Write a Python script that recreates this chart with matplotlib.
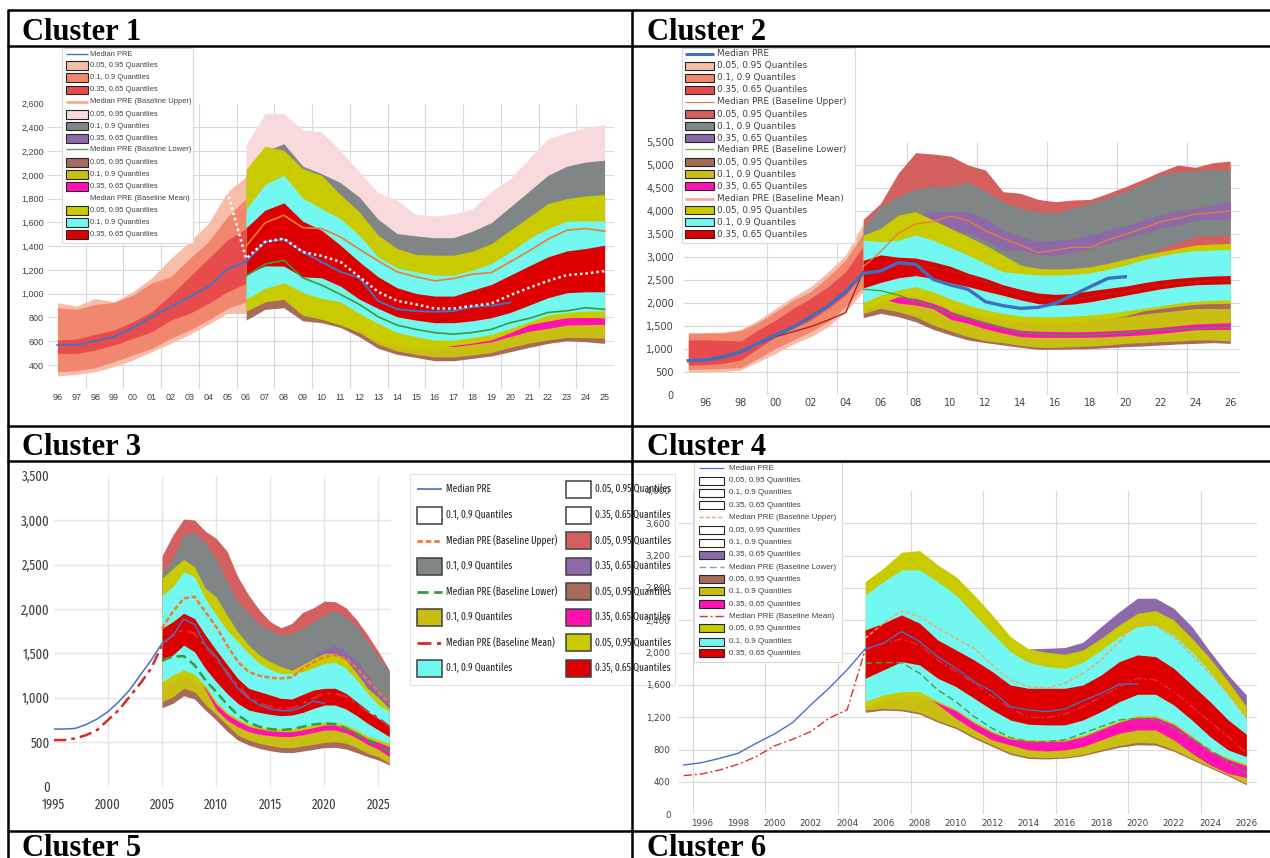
import matplotlib
matplotlib.use('Agg')
import matplotlib.pyplot as plt
from matplotlib.patches import Rectangle
from matplotlib import font_manager as fm
from matplotlib.font_manager import FontProperties
from matplotlib.textpath import TextPath

W, H = 1270, 858
fig = plt.figure(figsize=(W / 100, H / 100), dpi=100)
fig.patch.set_facecolor('white')

# ---------------------------------------------------------------- labels
LEG16 = ['Median PRE', '0.05, 0.95 Quantiles', '0.1, 0.9 Quantiles', '0.35, 0.65 Quantiles',
         'Median PRE (Baseline Upper)', '0.05, 0.95 Quantiles', '0.1, 0.9 Quantiles', '0.35, 0.65 Quantiles',
         'Median PRE (Baseline Lower)', '0.05, 0.95 Quantiles', '0.1, 0.9 Quantiles', '0.35, 0.65 Quantiles',
         'Median PRE (Baseline Mean)', '0.05, 0.95 Quantiles', '0.1, 0.9 Quantiles', '0.35, 0.65 Quantiles']
C3_COL1 = ['Median PRE', '0.1, 0.9 Quantiles', 'Median PRE (Baseline Upper)', '0.1, 0.9 Quantiles',
           'Median PRE (Baseline Lower)', '0.1, 0.9 Quantiles', 'Median PRE (Baseline Mean)', '0.1, 0.9 Quantiles']
C3_COL2 = ['0.05, 0.95 Quantiles', '0.35, 0.65 Quantiles', '0.05, 0.95 Quantiles', '0.35, 0.65 Quantiles',
           '0.05, 0.95 Quantiles', '0.35, 0.65 Quantiles', '0.05, 0.95 Quantiles', '0.35, 0.65 Quantiles']

# ---------------------------------------------------------------- colours
HIST_COLS = ['#F7BDA8', '#F0876E', '#E84B4B']
UP_COLS_1 = ['#F8D9DC', '#808685', '#8E69A9']
UP_COLS_2 = ['#D45F5F', '#808685', '#8E69A9']
LO_COLS = ['#A86A5A', '#C9BE12', '#FF12B0']
MN_COLS = ['#CACA00', '#72F8F0', '#DE0000']
BLUE = '#4472C4'
ORANGE = '#ED7D31'
GREEN = '#3C9A3C'

# ================================================================ Cluster 1
c1_hist_years = list(range(1996, 2007))
c1_hist_q95 = [924, 896, 960, 932, 1016, 1134, 1296, 1436, 1590, 1856, 1982]
c1_hist_q90 = [882, 870, 910, 926, 988, 1092, 1142, 1296, 1436, 1646, 1800]
c1_hist_q65 = [610, 618, 658, 694, 764, 848, 988, 1142, 1296, 1450, 1548]
c1_hist_q35 = [498, 498, 526, 568, 624, 680, 778, 834, 918, 1016, 1086]
c1_hist_q10 = [344, 352, 378, 428, 484, 540, 624, 694, 778, 876, 932]
c1_hist_q05 = [308, 322, 344, 386, 442, 512, 582, 658, 742, 834, 834]
c1_blue_years = list(range(1996, 2021))
c1_blue = [568, 568, 602, 638, 714, 806, 890, 974, 1058, 1206, 1268, 1436, 1458, 1352, 1268,
           1184, 1134, 938, 870, 854, 848, 854, 890, 898, 926]
c1_fc_years = list(range(2006, 2026))
c1_up_q95 = [2254, 2514, 2514, 2380, 2360, 2206, 2024, 1850, 1786, 1666, 1654, 1671, 1716, 1862, 1968, 2136, 2304, 2354, 2396, 2424]
c1_up_q90 = [2000, 2200, 2262, 2074, 2010, 1934, 1814, 1626, 1506, 1486, 1470, 1472, 1526, 1598, 1730, 1862, 1996, 2072, 2108, 2122]
c1_up_q65 = [1500, 1700, 1760, 1650, 1640, 1570, 1470, 1370, 1280, 1240, 1200, 1220, 1260, 1280, 1370, 1460, 1560, 1630, 1650, 1620]
c1_up_q35 = [1300, 1500, 1560, 1460, 1450, 1380, 1280, 1180, 1090, 1040, 1010, 1030, 1070, 1080, 1170, 1260, 1360, 1430, 1450, 1430]
c1_up_q10 = [1250, 1400, 1450, 1350, 1300, 1250, 1150, 1050, 1000, 950, 920, 930, 960, 990, 1050, 1150, 1250, 1300, 1320, 1320]
c1_up_q05 = [1200, 1350, 1400, 1300, 1250, 1200, 1100, 1000, 950, 900, 870, 880, 910, 940, 1000, 1100, 1200, 1250, 1270, 1270]
c1_up_med = [1400, 1596, 1660, 1556, 1548, 1478, 1374, 1276, 1184, 1142, 1108, 1128, 1164, 1178, 1268, 1360, 1458, 1534, 1548, 1526]
c1_mn_q95 = [2046, 2242, 2206, 2052, 1996, 1834, 1688, 1492, 1380, 1330, 1324, 1324, 1358, 1422, 1534, 1646, 1758, 1800, 1822, 1834]
c1_mn_q90 = [1710, 1920, 1996, 1806, 1716, 1632, 1492, 1310, 1218, 1184, 1156, 1156, 1198, 1254, 1352, 1464, 1548, 1610, 1612, 1612]
c1_mn_q65 = [1554, 1702, 1764, 1610, 1534, 1408, 1268, 1142, 1050, 1002, 980, 980, 1030, 1078, 1156, 1234, 1310, 1360, 1380, 1408]
c1_mn_q35 = [1162, 1234, 1232, 1142, 1134, 1064, 954, 876, 806, 778, 756, 756, 772, 798, 842, 904, 966, 1008, 1016, 1016]
c1_mn_q10 = [954, 1044, 1092, 1010, 960, 932, 834, 750, 674, 638, 610, 610, 632, 658, 708, 764, 820, 842, 854, 854]
c1_mn_q05 = [854, 932, 954, 820, 786, 740, 680, 600, 560, 540, 535, 565, 585, 612, 672, 740, 770, 798, 800, 798]
c1_lo_q95 = [1500, 1600, 1650, 1500, 1450, 1350, 1250, 1150, 1080, 1050, 1030, 1020, 1030, 1050, 1100, 1150, 1200, 1220, 1240, 1230]
c1_lo_q90 = [1400, 1500, 1550, 1400, 1350, 1250, 1150, 1050, 980, 950, 930, 920, 930, 950, 1000, 1050, 1100, 1120, 1140, 1130]
c1_lo_q65 = [1250, 1350, 1380, 1250, 1200, 1100, 1000, 900, 830, 800, 780, 770, 780, 800, 850, 900, 940, 960, 980, 970]
c1_lo_q35 = [1000, 1100, 1120, 1000, 950, 880, 800, 700, 620, 580, 560, 555, 575, 595, 640, 684, 708, 736, 740, 742]
c1_lo_q10 = [854, 932, 954, 820, 786, 736, 674, 574, 518, 490, 468, 468, 484, 506, 548, 585, 610, 632, 630, 624]
c1_lo_q05 = [778, 868, 882, 772, 756, 716, 638, 540, 490, 464, 436, 436, 456, 476, 512, 548, 582, 604, 596, 582]
c1_lo_med = [1150, 1248, 1282, 1134, 1072, 994, 910, 806, 736, 700, 672, 660, 674, 700, 756, 792, 842, 856, 882, 868]
c1_mn_med_years = list(range(2005, 2026))
c1_mn_med = [1860, 1296, 1436, 1464, 1352, 1318, 1268, 1142, 1016, 940, 910, 876, 876, 898, 918, 988, 1050, 1108, 1156, 1170, 1190]
c1_xticks = list(range(1996, 2026))
c1_xlabels = ['96', '97', '98', '99', '00', '01', '02', '03', '04', '05', '06', '07', '08', '09', '10',
              '11', '12', '13', '14', '15', '16', '17', '18', '19', '20', '21', '22', '23', '24', '25']
c1_yticks = [400, 600, 800, 1000, 1200, 1400, 1600, 1800, 2000, 2200, 2400, 2600]

# ================================================================ Cluster 2
c2_hist_years = list(range(1995, 2006))
c2_hist_q95 = [1356, 1364, 1370, 1429, 1632, 1886, 2140, 2358, 2684, 3047, 3736]
c2_hist_q90 = [1342, 1345, 1350, 1400, 1574, 1814, 2067, 2249, 2575, 2938, 3518]
c2_hist_q65 = [1197, 1200, 1190, 1175, 1415, 1632, 1886, 2104, 2358, 2684, 3228]
c2_hist_q35 = [653, 660, 690, 762, 1016, 1269, 1451, 1632, 1886, 2176, 2648]
c2_hist_q10 = [559, 565, 580, 595, 798, 1016, 1197, 1378, 1596, 1922, 2358]
c2_hist_q05 = [493, 500, 510, 544, 725, 907, 1110, 1269, 1487, 1814, 2249]
c2_blue_years = list(range(1995, 2021))
c2_blue = [747, 762, 834, 943, 1124, 1306, 1473, 1705, 1944, 2249, 2648, 2698, 2880, 2844, 2517, 2394,
           2300, 2031, 1944, 1886, 1908, 1995, 2176, 2358, 2539, 2575]
c2_mn_med_years = list(range(1995, 2027))
c2_mn_med = [750, 760, 830, 930, 1110, 1269, 1378, 1487, 1632, 1792, 2684, 2720, 2844, 2829, 2757, 2706,
             2575, 2467, 2300, 2176, 2089, 2067, 2082, 2140, 2198, 2249, 2321, 2379, 2430, 2467, 2481, 2488]
c2_fc_years = list(range(2005, 2027))
c2_up_q95 = [3823, 4171, 4824, 5274, 5245, 5200, 5005, 4897, 4425, 4389, 4258, 4207, 4244, 4258, 4389, 4534, 4693, 4860, 5005, 4955, 5056, 5092]
c2_up_q90 = [3649, 4100, 4331, 4476, 4534, 4548, 4643, 4425, 4207, 4062, 3990, 3968, 4062, 4171, 4302, 4425, 4606, 4788, 4860, 4882, 4911, 4896]
c2_up_q65 = [2900, 3250, 3650, 3900, 3990, 3990, 3990, 3845, 3591, 3446, 3337, 3373, 3388, 3482, 3591, 3678, 3808, 3917, 4011, 4062, 4135, 4229]
c2_up_q35 = [2700, 3000, 3350, 3550, 3600, 3627, 3518, 3373, 3155, 3155, 3047, 3047, 3097, 3192, 3301, 3409, 3518, 3627, 3700, 3808, 3823, 3830]
c2_up_q10 = [3382, 3527, 3817, 3890, 3708, 3527, 3346, 3164, 2947, 2729, 2657, 2642, 2657, 2693, 2765, 2860, 2947, 3190, 3320, 3446, 3470, 3482]
c2_up_q05 = [3182, 3327, 3617, 3690, 3508, 3327, 3146, 2964, 2747, 2529, 2457, 2442, 2457, 2493, 2565, 2660, 2747, 2819, 2892, 2964, 2986, 3001]
c2_up_med = [2793, 3119, 3518, 3721, 3772, 3895, 3794, 3576, 3409, 3264, 3097, 3155, 3214, 3214, 3373, 3496, 3627, 3772, 3845, 3939, 3968, 4004]
c2_mn_q95 = [3482, 3627, 3917, 3990, 3808, 3627, 3446, 3264, 3047, 2829, 2757, 2742, 2757, 2793, 2865, 2960, 3047, 3119, 3192, 3264, 3286, 3301]
c2_mn_q90 = [3373, 3337, 3373, 3482, 3373, 3210, 3047, 2865, 2684, 2648, 2611, 2611, 2626, 2662, 2735, 2829, 2938, 3025, 3097, 3141, 3156, 3170]
c2_mn_q65 = [2930, 3050, 3000, 2980, 2900, 2800, 2650, 2540, 2400, 2300, 2220, 2190, 2210, 2270, 2320, 2370, 2440, 2500, 2540, 2570, 2590, 2600]
c2_mn_q35 = [2330, 2450, 2550, 2600, 2540, 2440, 2360, 2260, 2170, 2070, 1990, 1960, 1980, 2030, 2100, 2170, 2240, 2310, 2360, 2400, 2410, 2420]
c2_mn_q10 = [2010, 2176, 2285, 2358, 2249, 2090, 1959, 1850, 1777, 1719, 1705, 1705, 1719, 1741, 1777, 1828, 1886, 1940, 2000, 2040, 2060, 2075]
c2_mn_q05 = [1850, 1995, 2140, 2104, 1995, 1850, 1814, 1705, 1632, 1596, 1574, 1574, 1596, 1632, 1668, 1719, 1830, 1880, 1930, 1975, 1990, 1995]
c2_lo_q95 = [2100, 2250, 2400, 2350, 2250, 2100, 2000, 1900, 1830, 1800, 1770, 1770, 1790, 1820, 1840, 1850, 1910, 1950, 1990, 2030, 2035, 2030]
c2_lo_q90 = [1950, 2100, 2250, 2200, 2100, 1950, 1850, 1750, 1680, 1650, 1620, 1620, 1640, 1670, 1690, 1700, 1760, 1800, 1840, 1880, 1885, 1880]
c2_lo_q65 = [2250, 2300, 2250, 2200, 2080, 1820, 1700, 1590, 1490, 1410, 1390, 1380, 1375, 1380, 1395, 1415, 1440, 1470, 1510, 1545, 1560, 1575]
c2_lo_q35 = [2000, 2100, 2000, 1960, 1880, 1650, 1560, 1440, 1350, 1270, 1255, 1255, 1255, 1258, 1270, 1290, 1310, 1340, 1380, 1420, 1425, 1430]
c2_lo_q10 = [1777, 1886, 1814, 1705, 1523, 1393, 1269, 1182, 1139, 1081, 1037, 1037, 1052, 1066, 1088, 1124, 1139, 1161, 1175, 1197, 1197, 1175]
c2_lo_q05 = [1683, 1777, 1705, 1596, 1429, 1306, 1197, 1139, 1088, 1037, 994, 994, 1001, 1008, 1030, 1052, 1066, 1088, 1110, 1124, 1139, 1124]
c2_lo_med = [2300, 2271, 2176, 2046, 1922, 1760, 1680, 1560, 1460, 1364, 1330, 1306, 1300, 1306, 1330, 1357, 1390, 1415, 1430, 1451, 1460, 1473]
c2_xticks = list(range(1996, 2027, 2))
c2_xlabels = ['96', '98', '00', '02', '04', '06', '08', '10', '12', '14', '16', '18', '20', '22', '24', '26']
c2_yticks = [0, 500, 1000, 1500, 2000, 2500, 3000, 3500, 4000, 4500, 5000, 5500]

# ================================================================ Cluster 3
c3_blue_years = list(range(1995, 2021))
c3_blue = [649, 649, 656, 701, 761, 844, 956, 1088, 1257, 1425, 1613, 1699, 1887, 1827, 1594, 1463,
           1275, 1107, 994, 919, 874, 855, 855, 900, 964, 938]
c3_mn_med_years = list(range(1995, 2027))
c3_mn_med = [525, 525, 544, 581, 638, 750, 863, 1013, 1163, 1332, 1594, 1707, 1763, 1725, 1575, 1444,
             1294, 1144, 1013, 938, 900, 881, 881, 938, 994, 1050, 1050, 1013, 938, 844, 769, 675]
c3_fc_years = list(range(2005, 2027))
c3_up_q95 = [2599, 2832, 3012, 3001, 2877, 2794, 2652, 2363, 2157, 1988, 1857, 1789, 1838, 1962, 2014, 2089, 2082, 2014, 1876, 1707, 1519, 1313]
c3_up_q90 = [2400, 2569, 2840, 2862, 2738, 2569, 2307, 2082, 1951, 1819, 1763, 1707, 1725, 1782, 1857, 1939, 1977, 1913, 1800, 1632, 1463, 1294]
c3_up_q65 = [2294, 2407, 2508, 2426, 2182, 2088, 1882, 1694, 1544, 1432, 1357, 1300, 1332, 1388, 1463, 1549, 1587, 1519, 1407, 1257, 1088, 956]
c3_up_q35 = [1900, 2050, 2200, 2150, 1950, 1800, 1600, 1400, 1300, 1250, 1230, 1220, 1220, 1300, 1350, 1400, 1420, 1350, 1200, 1050, 880, 750]
c3_up_q10 = [2244, 2357, 2458, 2376, 2132, 2038, 1832, 1644, 1494, 1382, 1307, 1250, 1213, 1277, 1344, 1400, 1400, 1325, 1175, 1007, 856, 763]
c3_up_q05 = [2144, 2257, 2358, 2276, 2032, 1938, 1732, 1544, 1394, 1282, 1207, 1150, 1113, 1177, 1244, 1300, 1300, 1225, 1075, 907, 756, 663]
c3_up_med = [1782, 1969, 2119, 2138, 1969, 1800, 1594, 1407, 1294, 1249, 1227, 1219, 1230, 1332, 1399, 1463, 1482, 1444, 1332, 1200, 1069, 938]
c3_mn_q95 = [2344, 2457, 2558, 2476, 2232, 2138, 1932, 1744, 1594, 1482, 1407, 1350, 1313, 1377, 1444, 1500, 1500, 1425, 1275, 1107, 1000, 880]
c3_mn_q90 = [2149, 2251, 2419, 2363, 2119, 1932, 1763, 1632, 1500, 1388, 1320, 1275, 1275, 1294, 1339, 1388, 1399, 1332, 1200, 1050, 919, 851]
c3_mn_q65 = [1782, 1857, 1951, 1894, 1707, 1538, 1377, 1219, 1107, 1069, 1032, 994, 987, 1039, 1088, 1107, 1107, 1050, 956, 844, 769, 675]
c3_mn_q35 = [1407, 1482, 1594, 1519, 1332, 1182, 1050, 938, 863, 836, 814, 799, 806, 836, 881, 919, 919, 874, 799, 713, 638, 563]
c3_mn_q10 = [1182, 1257, 1313, 1264, 1140, 960, 840, 765, 705, 675, 656, 649, 649, 670, 700, 724, 724, 694, 638, 570, 530, 488]
c3_mn_q05 = [1120, 1195, 1250, 1200, 1110, 930, 815, 740, 680, 650, 630, 620, 620, 640, 665, 694, 694, 665, 610, 540, 500, 450]
c3_lo_q95 = [1550, 1600, 1650, 1600, 1350, 1150, 1030, 950, 890, 850, 830, 820, 820, 840, 870, 900, 900, 870, 810, 740, 690, 630]
c3_lo_q90 = [1500, 1550, 1600, 1550, 1300, 1100, 980, 900, 840, 800, 780, 770, 770, 790, 820, 850, 850, 820, 760, 690, 640, 580]
c3_lo_q65 = [1400, 1450, 1500, 1450, 1180, 990, 880, 800, 740, 710, 690, 680, 680, 700, 725, 754, 754, 725, 670, 600, 560, 510]
c3_lo_q35 = [1250, 1300, 1350, 1300, 1090, 870, 750, 675, 620, 590, 574, 565, 565, 585, 610, 638, 638, 605, 550, 475, 420, 338]
c3_lo_q10 = [956, 1013, 1107, 1069, 927, 814, 694, 581, 525, 488, 461, 443, 439, 458, 476, 499, 506, 488, 439, 375, 338, 263]
c3_lo_q05 = [889, 938, 1024, 987, 863, 750, 626, 525, 469, 431, 405, 386, 383, 401, 420, 439, 443, 424, 383, 338, 300, 244]
c3_lo_med = [1425, 1463, 1470, 1369, 1200, 1069, 927, 806, 724, 675, 649, 638, 649, 675, 701, 713, 705, 656, 589, 525, 458, 394]
c3_xticks = [1995, 2000, 2005, 2010, 2015, 2020, 2025]
c3_yticks = [0, 500, 1000, 1500, 2000, 2500, 3000, 3500]

# ================================================================ Cluster 4
c4_blue_years = list(range(1995, 2021))
c4_blue = [610, 639, 693, 755, 879, 994, 1134, 1353, 1559, 1786, 2046, 2116, 2261, 2137, 1951, 1807,
           1642, 1518, 1332, 1291, 1271, 1304, 1403, 1497, 1609, 1613]
c4_mn_med_years = list(range(1995, 2027))
c4_mn_med = [479, 499, 549, 619, 714, 846, 928, 1023, 1188, 1291, 2034, 2116, 2170, 2096, 1910, 1766,
             1621, 1456, 1312, 1200, 1196, 1238, 1332, 1456, 1580, 1683, 1662, 1518, 1332, 1147, 961, 755]
c4_fc_years = list(range(2005, 2027))
c4_up_q65 = [2328, 2514, 2666, 2596, 2452, 2328, 2204, 1998, 1812, 2046, 2054, 2063, 2129, 2322, 2508, 2673, 2673, 2549, 2322, 2013, 1724, 1477]
c4_up_q35 = [2028, 2214, 2366, 2296, 2152, 2028, 1904, 1698, 1512, 1430, 1409, 1471, 1595, 1760, 1987, 2234, 2185, 2049, 1822, 1595, 1347, 1038]
c4_up_med = [2178, 2364, 2516, 2446, 2302, 2178, 2054, 1848, 1662, 1580, 1559, 1621, 1745, 1910, 2137, 2384, 2335, 2199, 1972, 1745, 1497, 1188]
c4_mn_q95 = [2879, 3044, 3242, 3263, 3086, 2941, 2714, 2467, 2199, 2046, 2005, 1980, 2034, 2178, 2343, 2487, 2520, 2405, 2178, 1930, 1642, 1332]
c4_mn_q90 = [2714, 2879, 3024, 3024, 2879, 2714, 2475, 2240, 2013, 1881, 1827, 1807, 1881, 2034, 2199, 2322, 2343, 2219, 2013, 1766, 1477, 1200]
c4_mn_q65 = [2281, 2364, 2467, 2364, 2157, 2034, 1910, 1766, 1600, 1559, 1559, 1559, 1600, 1724, 1889, 1972, 1951, 1807, 1600, 1394, 1167, 990]
c4_mn_q35 = [1683, 1786, 1889, 1848, 1683, 1580, 1436, 1291, 1167, 1114, 1106, 1106, 1167, 1271, 1394, 1485, 1485, 1353, 1167, 961, 796, 714]
c4_mn_q10 = [1394, 1477, 1518, 1518, 1400, 1300, 1150, 1030, 950, 925, 920, 925, 980, 1070, 1160, 1220, 1220, 1130, 970, 800, 700, 620]
c4_mn_q05 = [1330, 1410, 1460, 1460, 1380, 1280, 1130, 1010, 930, 905, 900, 905, 960, 1050, 1140, 1200, 1200, 1110, 950, 780, 680, 600]
c4_lo_q95 = [1900, 1950, 1980, 1900, 1700, 1600, 1450, 1320, 1240, 1200, 1190, 1200, 1250, 1330, 1410, 1460, 1460, 1370, 1210, 1050, 940, 850]
c4_lo_q90 = [1800, 1850, 1880, 1800, 1600, 1500, 1350, 1220, 1140, 1100, 1090, 1100, 1150, 1230, 1310, 1360, 1360, 1270, 1110, 950, 840, 750]
c4_lo_q65 = [1700, 1750, 1780, 1700, 1500, 1400, 1250, 1120, 1040, 1000, 990, 1000, 1050, 1130, 1210, 1260, 1260, 1170, 1010, 850, 740, 650]
c4_lo_q35 = [1500, 1550, 1580, 1500, 1360, 1188, 1044, 920, 858, 796, 784, 796, 837, 920, 1002, 1044, 1044, 920, 755, 611, 507, 454]
c4_lo_q10 = [1291, 1310, 1300, 1260, 1160, 1080, 960, 860, 760, 710, 700, 710, 740, 800, 850, 890, 880, 800, 690, 590, 490, 380]
c4_lo_q05 = [1262, 1290, 1280, 1240, 1140, 1060, 940, 840, 740, 690, 685, 695, 725, 780, 830, 860, 855, 780, 675, 575, 475, 365]
c4_lo_med = [1869, 1877, 1877, 1745, 1539, 1394, 1209, 1064, 949, 899, 899, 920, 1002, 1085, 1167, 1188, 1167, 1064, 940, 796, 652, 507]
c4_xticks = list(range(1996, 2027, 2))
c4_yticks = [0, 400, 800, 1200, 1600, 2000, 2400, 2800, 3200, 3600, 4000]


# ================================================================ condensed font (cluster 3 uses a squeezed look)
def pick_condensed():
    rank = {'ExtraCondensed': 0, 'Narrow': 1, 'Condensed': 1, 'SemiCondensed': 2}
    best = None
    for f in fm.fontManager.ttflist:
        fn = f.fname.replace('-', '').replace('_', '')
        if 'Bold' in fn or 'Italic' in fn or 'Oblique' in fn or 'Light' in fn or 'Black' in fn \
                or 'Medium' in fn or 'Thin' in fn or 'Mono' in fn:
            continue
        if f.style != 'normal':
            continue
        key = None
        for k in ['ExtraCondensed', 'SemiCondensed', 'Condensed', 'Narrow']:
            if k in fn or k in f.name.replace(' ', ''):
                key = k
                break
        if key is None and isinstance(f.stretch, str) and 'condensed' in f.stretch:
            key = 'Condensed'
        if key is None:
            continue
        r = rank[key]
        if best is None or r < best[0]:
            best = (r, f.fname)
    if best is None:
        return FontProperties(family='Liberation Sans')
    return FontProperties(fname=best[1])


COND = pick_condensed()


def fit_size(text, fp, target_px):
    w = TextPath((0, 0), text, size=10, prop=fp).get_extents().width
    return 10 * target_px / (w * 100 / 72)


def sized(fp, size):
    p = fp.copy()
    p.set_size(size)
    return p


C3_LEG_FP = sized(COND, min(fit_size('Median PRE (Baseline Upper)', COND, 110), 12))
C3_TICK_FP = sized(COND, min(fit_size('3,500', COND, 27), 13))


# ================================================================ helpers
def px_axes(x0, y0, x1, y1, z=1):
    ax = fig.add_axes([x0 / W, 1 - y1 / H, (x1 - x0) / W, (y1 - y0) / H])
    ax.set_facecolor('none')
    ax.set_zorder(z)
    for s in ax.spines.values():
        s.set_visible(False)
    return ax


def fan(ax, x, q05, q10, q35, q65, q90, q95, cols, z):
    if cols[0]:
        ax.fill_between(x, q05, q95, color=cols[0], lw=0, zorder=z)
    if cols[1]:
        ax.fill_between(x, q10, q90, color=cols[1], lw=0, zorder=z + 0.1)
    if cols[2]:
        ax.fill_between(x, q35, q65, color=cols[2], lw=0, zorder=z + 0.2)


def style_ticks(ax, xt, xl, yt, fp, col, xpad, ypad):
    ax.set_xticks(xt)
    ax.set_xticklabels(xl)
    ax.set_yticks(yt)
    ax.set_yticklabels([f'{v:,}' for v in yt])
    ax.tick_params(length=0, labelcolor=col)
    ax.tick_params(axis='x', pad=xpad)
    ax.tick_params(axis='y', pad=ypad)
    for t in ax.get_xticklabels() + ax.get_yticklabels():
        t.set_fontproperties(fp)


def grid(ax, gy, gx, col='#D9D9D9', lw=0.8):
    for v in gy:
        ax.axhline(v, color=col, lw=lw, zorder=0)
    for v in gx:
        ax.axvline(v, color=col, lw=lw, zorder=0)


def legend(ax, box, handles, labels, rows, hx0, hx1, tx, hh, fp,
           edge='#D9D9D9', pedge='#262626', plw=0.8, tcol='#404040'):
    if box is not None:
        x0, y0, x1, y1 = box
        ax.add_patch(Rectangle((x0, y0), x1 - x0, y1 - y0, facecolor='white',
                               edgecolor=edge, lw=0.8, zorder=1))
    for h, lab, yc in zip(handles, labels, rows):
        if h[0] == 'line':
            _, c, lw, ls = h
            ax.plot([hx0, hx1], [yc, yc], color=c, lw=lw, linestyle=ls, zorder=2,
                    solid_capstyle='butt', dash_capstyle='butt')
        else:
            ax.add_patch(Rectangle((hx0, yc - hh / 2), hx1 - hx0, hh, facecolor=h[1],
                                   edgecolor=pedge, lw=plw, zorder=2))
        ax.text(tx, yc, lab, va='center', ha='left', fontproperties=fp,
                color=tcol, zorder=3)


# overlay for cluster-3 legend (below cluster-4 axes)
ov3 = fig.add_axes([0, 0, 1, 1])
ov3.set_xlim(0, W)
ov3.set_ylim(H, 0)
ov3.axis('off')
ov3.set_zorder(0)

# ================================================================ draw Cluster 1
a1 = px_axes(48, 103.5, 614, 388.8)
a1.set_xlim(1995.5, 2025.5)
a1.set_ylim(200, 2600)
grid(a1, c1_yticks[:-1], [1997.5 + 2 * k for k in range(14)])
fan(a1, c1_hist_years, c1_hist_q05, c1_hist_q10, c1_hist_q35, c1_hist_q65, c1_hist_q90, c1_hist_q95, HIST_COLS, 1)
fan(a1, c1_fc_years, c1_up_q05, c1_up_q10, c1_up_q35, c1_up_q65, c1_up_q90, c1_up_q95, UP_COLS_1, 2)
fan(a1, c1_fc_years, c1_lo_q05, c1_lo_q10, c1_lo_q35, c1_lo_q65, c1_lo_q90, c1_lo_q95, LO_COLS, 3)
fan(a1, c1_fc_years, c1_mn_q05, c1_mn_q10, c1_mn_q35, c1_mn_q65, c1_mn_q90, c1_mn_q95, MN_COLS, 4)
a1.plot(c1_fc_years, c1_up_med, color=ORANGE, lw=1.2, zorder=6)
a1.plot(c1_fc_years, c1_lo_med, color=GREEN, lw=1.2, zorder=6)
a1.plot(c1_blue_years, c1_blue, color=BLUE, lw=1.4, zorder=7)
a1.plot(c1_mn_med_years, c1_mn_med, color='white', lw=1.8, linestyle=(0, (1, 1.2)), zorder=8)
style_ticks(a1, c1_xticks, c1_xlabels, c1_yticks, FontProperties(family='Liberation Sans', size=6.5),
            '#404040', 3, 3)

# ================================================================ draw Cluster 2
a2 = px_axes(683.6, 142.3, 1239.5, 395)
a2.set_xlim(1994.73, 2026.53)
a2.set_ylim(0, 5500)
grid(a2, c2_yticks[1:-1], [1999.5 + 4 * k for k in range(7)])
fan(a2, c2_hist_years, c2_hist_q05, c2_hist_q10, c2_hist_q35, c2_hist_q65, c2_hist_q90, c2_hist_q95, HIST_COLS, 1)
fan(a2, c2_fc_years, c2_up_q05, c2_up_q10, c2_up_q35, c2_up_q65, c2_up_q90, c2_up_q95, UP_COLS_2, 2)
fan(a2, c2_fc_years, c2_lo_q05, c2_lo_q10, c2_lo_q35, c2_lo_q65, c2_lo_q90, c2_lo_q95, LO_COLS, 3)
fan(a2, c2_fc_years, c2_mn_q05, c2_mn_q10, c2_mn_q35, c2_mn_q65, c2_mn_q90, c2_mn_q95, MN_COLS, 4)
a2.plot(c2_fc_years, c2_up_med, color=ORANGE, lw=0.9, zorder=6)
a2.plot(c2_fc_years, c2_lo_med, color='#3CA03C', lw=0.9, zorder=6)
a2.plot(c2_mn_med_years, c2_mn_med, color='#B22222', lw=1.0, zorder=6)
a2.plot(c2_blue_years, c2_blue, color='#3D6FC0', lw=2.4, zorder=7)
style_ticks(a2, c2_xticks, c2_xlabels, c2_yticks, FontProperties(family='DejaVu Sans', size=7),
            '#404040', 2.5, 7)

# ================================================================ draw Cluster 3
a3 = px_axes(53.8, 475.7, 390.7, 786.7)
a3.set_xlim(1995, 2026.13)
a3.set_ylim(0, 3500)
grid(a3, c3_yticks[1:-1], c3_xticks[1:], col='#E4E4E4', lw=1.0)
fan(a3, c3_fc_years, c3_up_q05, c3_up_q10, c3_up_q35, c3_up_q65, c3_up_q90, c3_up_q95, UP_COLS_2, 2)
fan(a3, c3_fc_years, c3_lo_q05, c3_lo_q10, c3_lo_q35, c3_lo_q65, c3_lo_q90, c3_lo_q95, LO_COLS, 3)
fan(a3, c3_fc_years, c3_mn_q05, c3_mn_q10, c3_mn_q35, c3_mn_q65, c3_mn_q90, c3_mn_q95, MN_COLS, 4)
a3.plot(c3_fc_years, c3_up_med, color=ORANGE, lw=1.8, linestyle=(0, (2, 1)), zorder=6)
a3.plot(c3_fc_years, c3_lo_med, color=GREEN, lw=1.8, linestyle=(0, (4, 2)), zorder=6)
a3.plot(c3_mn_med_years, c3_mn_med, color='#D42A2A', lw=1.8, linestyle=(0, (5, 2, 1.5, 2)), zorder=6)
a3.plot(c3_blue_years, c3_blue, color=BLUE, lw=1.1, zorder=7)
style_ticks(a3, c3_xticks, [str(v) for v in c3_xticks], c3_yticks, C3_TICK_FP, '#404040', 8, 3)

# ================================================================ draw Cluster 4
a4 = px_axes(677.5, 491, 1256.5, 814.3)
a4.set_xlim(1994.66, 2026.56)
a4.set_ylim(0, 4000)
grid(a4, c4_yticks[1:-1], [1995.5 + 4 * k for k in range(8)])
fan(a4, c4_fc_years, None, None, c4_up_q35, c4_up_q65, None, None, [None, None, '#8E69A9'], 2)
fan(a4, c4_fc_years, c4_lo_q05, c4_lo_q10, c4_lo_q35, c4_lo_q65, c4_lo_q90, c4_lo_q95, LO_COLS, 3)
fan(a4, c4_fc_years, c4_mn_q05, c4_mn_q10, c4_mn_q35, c4_mn_q65, c4_mn_q90, c4_mn_q95, MN_COLS, 4)
a4.plot(c4_fc_years, c4_up_med, color='#F4A460', lw=1.0, linestyle=(0, (3, 1.5)), zorder=6)
a4.plot(c4_fc_years, c4_lo_med, color='#4E9A4E', lw=1.0, linestyle=(0, (5, 2.5)), zorder=6)
a4.plot(c4_mn_med_years, c4_mn_med, color='#E03030', lw=1.0, linestyle=(0, (6, 2, 1.5, 2)), zorder=6)
a4.plot(c4_blue_years, c4_blue, color=BLUE, lw=1.0, zorder=7)
style_ticks(a4, c4_xticks, [str(v) for v in c4_xticks], c4_yticks, FontProperties(family='DejaVu Sans', size=6.3),
            '#404040', 3.5, 5)

# ================================================================ top overlay
ov = fig.add_axes([0, 0, 1, 1])
ov.set_xlim(0, W)
ov.set_ylim(H, 0)
ov.axis('off')
ov.set_zorder(10)

rows_top = [54, 65.5, 77.5, 89.8, 101.8, 114.3, 126.2, 138.3, 149.3, 162.3, 174.3, 186.3, 198.5, 210.3, 222.3, 234.3]

# Cluster 1 legend
h1 = [('line', BLUE, 1.0, '-'), ('patch', HIST_COLS[0]), ('patch', HIST_COLS[1]), ('patch', HIST_COLS[2]),
      ('line', '#F4B183', 2.0, '-'), ('patch', UP_COLS_1[0]), ('patch', UP_COLS_1[1]), ('patch', UP_COLS_1[2]),
      ('line', '#5AA05A', 1.0, '-'), ('patch', LO_COLS[0]), ('patch', LO_COLS[1]), ('patch', LO_COLS[2]),
      ('line', 'white', 1.5, '-'), ('patch', MN_COLS[0]), ('patch', MN_COLS[1]), ('patch', MN_COLS[2])]
legend(ov, (62, 47.7, 193, 243.3), h1, LEG16, rows_top, 65.5, 87.5, 90.5, 8.5,
       FontProperties(family='Liberation Sans', size=5.4))

# Cluster 2 legend
h2 = [('line', BLUE, 2.2, '-'), ('patch', HIST_COLS[0]), ('patch', HIST_COLS[1]), ('patch', HIST_COLS[2]),
      ('line', ORANGE, 0.9, '-'), ('patch', UP_COLS_2[0]), ('patch', UP_COLS_2[1]), ('patch', UP_COLS_2[2]),
      ('line', '#70AD47', 0.9, '-'), ('patch', LO_COLS[0]), ('patch', LO_COLS[1]), ('patch', LO_COLS[2]),
      ('line', '#F4A0A0', 1.8, '-'), ('patch', MN_COLS[0]), ('patch', MN_COLS[1]), ('patch', MN_COLS[2])]
legend(ov, (681.6, 47.7, 854.8, 242.7), h2, LEG16, rows_top, 684.5, 713.5, 717.3, 8,
       FontProperties(family='DejaVu Sans', size=6.4))

# Cluster 4 legend
rows_c4 = [468.3, 480.5, 492.7, 505.3, 517.3, 530.3, 542.5, 554.5, 567.3, 579.3, 591.3, 604.3, 616.3, 628.3, 641.5, 653.3]
h4 = [('line', BLUE, 0.9, '-'), ('patch', 'white'), ('patch', 'white'), ('patch', 'white'),
      ('line', '#F4A460', 1.0, (0, (3, 1.5))), ('patch', 'white'), ('patch', 'white'), ('patch', '#8E69A9'),
      ('line', '#70B070', 1.0, (0, (5, 2.5))), ('patch', LO_COLS[0]), ('patch', LO_COLS[1]), ('patch', LO_COLS[2]),
      ('line', '#E03030', 1.0, (0, (6, 2, 1.5, 2))), ('patch', MN_COLS[0]), ('patch', MN_COLS[1]), ('patch', MN_COLS[2])]
legend(ov, (693.7, 461, 842.3, 662), h4, LEG16, rows_c4, 699.3, 724.3, 729.3, 8,
       FontProperties(family='Liberation Sans', size=5.8))

# Cluster 3 legend (two columns)
rows_c3 = [489.3, 515, 540.5, 566, 591.7, 617, 642.7, 668.3]
h3a = [('line', BLUE, 1.2, '-'), ('patch', 'white'), ('line', ORANGE, 2.0, (0, (2, 1))), ('patch', '#808685'),
       ('line', GREEN, 2.0, (0, (4, 2))), ('patch', LO_COLS[1]), ('line', '#D42A2A', 2.0, (0, (5, 2, 1.5, 2))),
       ('patch', MN_COLS[1])]
h3b = [('patch', 'white'), ('patch', 'white'), ('patch', UP_COLS_2[0]), ('patch', UP_COLS_2[2]),
       ('patch', LO_COLS[0]), ('patch', LO_COLS[2]), ('patch', MN_COLS[0]), ('patch', MN_COLS[2])]
legend(ov3, (410, 474, 675, 685), h3a, C3_COL1, rows_c3, 416.5, 442, 445.7, 17, C3_LEG_FP,
       edge='#E0E0E0', pedge='#404040', plw=1.1, tcol='#262626')
legend(ov3, None, h3b, C3_COL2, rows_c3, 566, 591, 595, 17, C3_LEG_FP,
       pedge='#404040', plw=1.1, tcol='#262626')

# table rules
for y in [10, 46, 426, 461, 831]:
    ov.plot([7, W], [y, y], color='black', lw=1.8, solid_capstyle='butt', zorder=20)
for x in [8, 631.5]:
    ov.plot([x, x], [10, H], color='black', lw=1.8, solid_capstyle='butt', zorder=20)

# titles
for txt, x, y in [('Cluster 1', 22, 40), ('Cluster 2', 647, 40), ('Cluster 3', 22, 455),
                  ('Cluster 4', 647, 455), ('Cluster 5', 22, 856), ('Cluster 6', 647, 856)]:
    ov.text(x, y, txt, fontsize=22, fontweight='bold', family='Liberation Serif',
            va='baseline', ha='left', color='black', zorder=21)

fig.savefig('out.png', dpi=100, facecolor='white')
